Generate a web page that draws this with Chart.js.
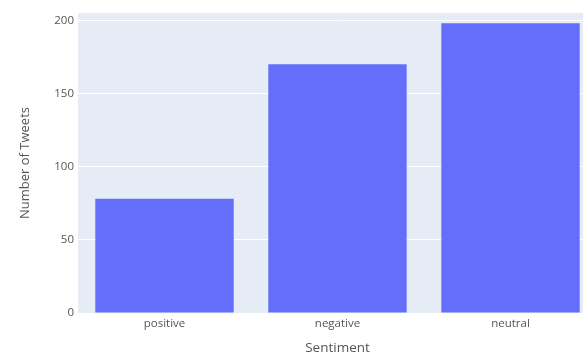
<!DOCTYPE html>
<html>
<head>
<meta charset="utf-8">
<script src="https://cdn.jsdelivr.net/npm/chart.js@4/dist/chart.umd.min.js"></script>
<style>
  body { margin: 0; background: #fff; overflow: hidden; }
</style>
</head>
<body>
<canvas id="chart" width="600" height="355"></canvas>
<script>
const sentiments = ['positive', 'negative', 'neutral'];
const tweetCounts = [78, 170, 198];
const yTicks = [0, 50, 100, 150, 200];

// plotly-ish background behind the plot area
const plotBg = {
    id: 'plotBg',
    beforeDraw(chart) {
        const { ctx, chartArea } = chart;
        ctx.save();
        ctx.fillStyle = '#E5ECF6';
        ctx.fillRect(chartArea.left, chartArea.top, chartArea.right - chartArea.left, chartArea.bottom - chartArea.top);
        ctx.restore();
    }
};

const ctx = document.getElementById('chart').getContext('2d');
const chart = new Chart(ctx, {
    type: 'bar',
    data: {
        labels: sentiments,
        datasets: [{
            label: 'count',
            data: tweetCounts,
            backgroundColor: '#636EFA',
            borderWidth: 0,
            categoryPercentage: 0.8,
            barPercentage: 1.0
        }]
    },
    options: {
        responsive: false,
        animation: false,
        layout: { padding: { top: 13, right: 3, left: 0, bottom: 0 } },
        plugins: {
            legend: { display: false },
            tooltip: { enabled: false }
        },
        scales: {
            x: {
                grid: { display: false, drawTicks: false },
                border: { display: false },
                ticks: { color: '#555', padding: 4, font: { family: 'Open Sans', size: 11.5 } },
                title: {
                    display: true,
                    text: 'Sentiment',
                    color: '#555',
                    padding: { top: 0, bottom: 0 },
                    font: { family: 'Open Sans', size: 13.5, lineHeight: 1 }
                },
                afterFit: s => { s.height = 42; }
            },
            y: {
                min: 0,
                max: 205,
                grid: { color: '#fff', lineWidth: 1, drawTicks: false },
                border: { display: false },
                afterBuildTicks: s => { s.ticks = yTicks.map(v => ({ value: v })); },
                ticks: { color: '#555', padding: 4, font: { family: 'Open Sans', size: 11.5 } },
                title: {
                    display: true,
                    text: 'Number of Tweets',
                    color: '#555',
                    padding: { top: 19, bottom: 0 },
                    font: { family: 'Open Sans', size: 13, lineHeight: 1 }
                },
                afterFit: s => { s.width = 78; }
            }
        }
    },
    plugins: [plotBg]
});
</script>
</body>
</html>
